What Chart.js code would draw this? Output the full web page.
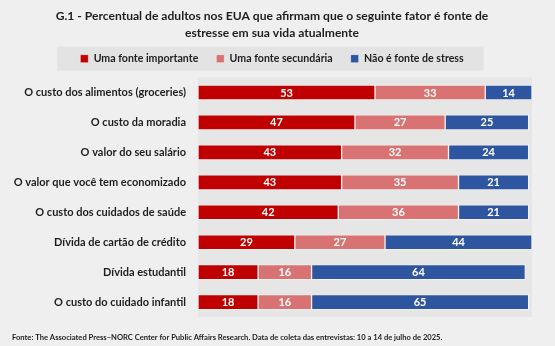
<!DOCTYPE html>
<html>
<head>
<meta charset="utf-8">
<script src="https://cdn.jsdelivr.net/npm/chart.js@4/dist/chart.umd.min.js"></script>
<style>
  html, body { margin: 0; padding: 0; background: #efefef; }
  #wrap { width: 555px; height: 346px; }
</style>
</head>
<body>
<div id="wrap"><canvas id="c" width="555" height="346"></canvas></div>
<script>
const categories = [
  "O custo dos alimentos (groceries)",
  "O custo da moradia",
  "O valor do seu salário",
  "O valor que você tem economizado",
  "O custo dos cuidados de saúde",
  "Dívida de cartão de crédito",
  "Dívida estudantil",
  "O custo do cuidado infantil"
];
const importante = [53, 47, 43, 43, 42, 29, 18, 18];
const secundaria = [33, 27, 32, 35, 36, 27, 16, 16];
const naoFonte   = [14, 25, 24, 21, 21, 44, 64, 65];
const seriesNames = ["Uma fonte importante", "Uma fonte secundária", "Não é fonte de stress"];
const seriesColors = ["#c00000", "#d97272", "#2e55a0"];
const titleLines = [
  "G.1 - Percentual de adultos nos EUA que afirmam que o seguinte fator é fonte de",
  "estresse em sua vida atualmente"
];
const sourceNote = "Fonte: The Associated Press–NORC Center for Public Affairs Research. Data de coleta das entrevistas: 10 a 14 de julho de 2025.";

const FONT = "Lato, 'Liberation Sans', sans-serif";
const TEXT = "#1e1e1e";

const bgPlugin = {
  id: 'bgPlugin',
  beforeDraw(chart) {
    const {ctx, chartArea: a, legend} = chart;
    ctx.save();
    ctx.fillStyle = '#efefef';
    ctx.fillRect(0, 0, chart.width, chart.height);
    ctx.fillStyle = '#e6e6e6';
    ctx.fillRect(a.left, a.top, a.right - a.left, a.bottom - a.top);
    if (legend && legend.legendHitBoxes && legend.legendHitBoxes.length) {
      const hb = legend.legendHitBoxes;
      const l = hb[0].left - 23;
      const r = hb[hb.length - 1].left + hb[hb.length - 1].width + 20;
      const cy = hb[0].top + hb[0].height / 2;
      ctx.fillStyle = '#e3e3e3';
      ctx.fillRect(l, cy - 12, r - l, 24);
    }
    ctx.restore();
  }
};

const valueLabels = {
  id: 'valueLabels',
  afterDatasetsDraw(chart) {
    const {ctx} = chart;
    ctx.save();
    ctx.font = "bold 11px " + FONT;
    ctx.fillStyle = '#ffffff';
    ctx.textAlign = 'center';
    ctx.textBaseline = 'middle';
    chart.data.datasets.forEach((ds, di) => {
      const meta = chart.getDatasetMeta(di);
      meta.data.forEach((bar, i) => {
        const v = ds.data[i];
        ctx.fillText(String(v), (bar.x + bar.base) / 2, bar.y + 0.5);
      });
    });
    ctx.restore();
  }
};

const dataArrays = [importante, secundaria, naoFonte];

new Chart(document.getElementById('c'), {
  type: 'bar',
  data: {
    labels: categories,
    datasets: dataArrays.map((arr, k) => ({
      label: seriesNames[k],
      data: arr,
      backgroundColor: seriesColors[k],
      borderColor: 'rgba(255,255,255,0.45)',
      borderWidth: 1,
      borderSkipped: false,
      barThickness: 15
    }))
  },
  options: {
    indexAxis: 'y',
    responsive: false,
    animation: false,
    devicePixelRatio: 1,
    layout: { padding: { left: 12, right: 23, top: 4, bottom: 2 } },
    scales: {
      x: {
        stacked: true, min: 0, max: 100, position: 'top',
        ticks: { display: false },
        grid: { display: false, drawTicks: false },
        border: { display: false },
        afterFit(s) { s.height = 3.5; }
      },
      y: {
        stacked: true,
        grid: { display: false, drawTicks: false },
        border: { display: false },
        ticks: { color: TEXT, font: { family: FONT, size: 11, weight: 'bold' }, padding: 12 },
        afterFit(s) { s.width = 186; }
      }
    },
    plugins: {
      title: {
        display: true,
        text: titleLines,
        color: TEXT,
        font: { family: FONT, size: 12.1, weight: 'bold', lineHeight: 1.4 },
        padding: { top: 3.5, bottom: -6 }
      },
      subtitle: {
        display: true,
        position: 'bottom',
        align: 'start',
        text: sourceNote,
        color: TEXT,
        font: { family: FONT, size: 7.6, weight: 'bold', lineHeight: 1.2 },
        padding: { top: 15.8, bottom: 2 }
      },
      legend: {
        display: true,
        position: 'top',
        labels: {
          color: TEXT,
          font: { family: FONT, size: 10.6, weight: 'bold' },
          boxWidth: 8, boxHeight: 8,
          padding: 18
        }
      },
      tooltip: { enabled: false }
    }
  },
  plugins: [bgPlugin, valueLabels]
});
</script>
</body>
</html>
